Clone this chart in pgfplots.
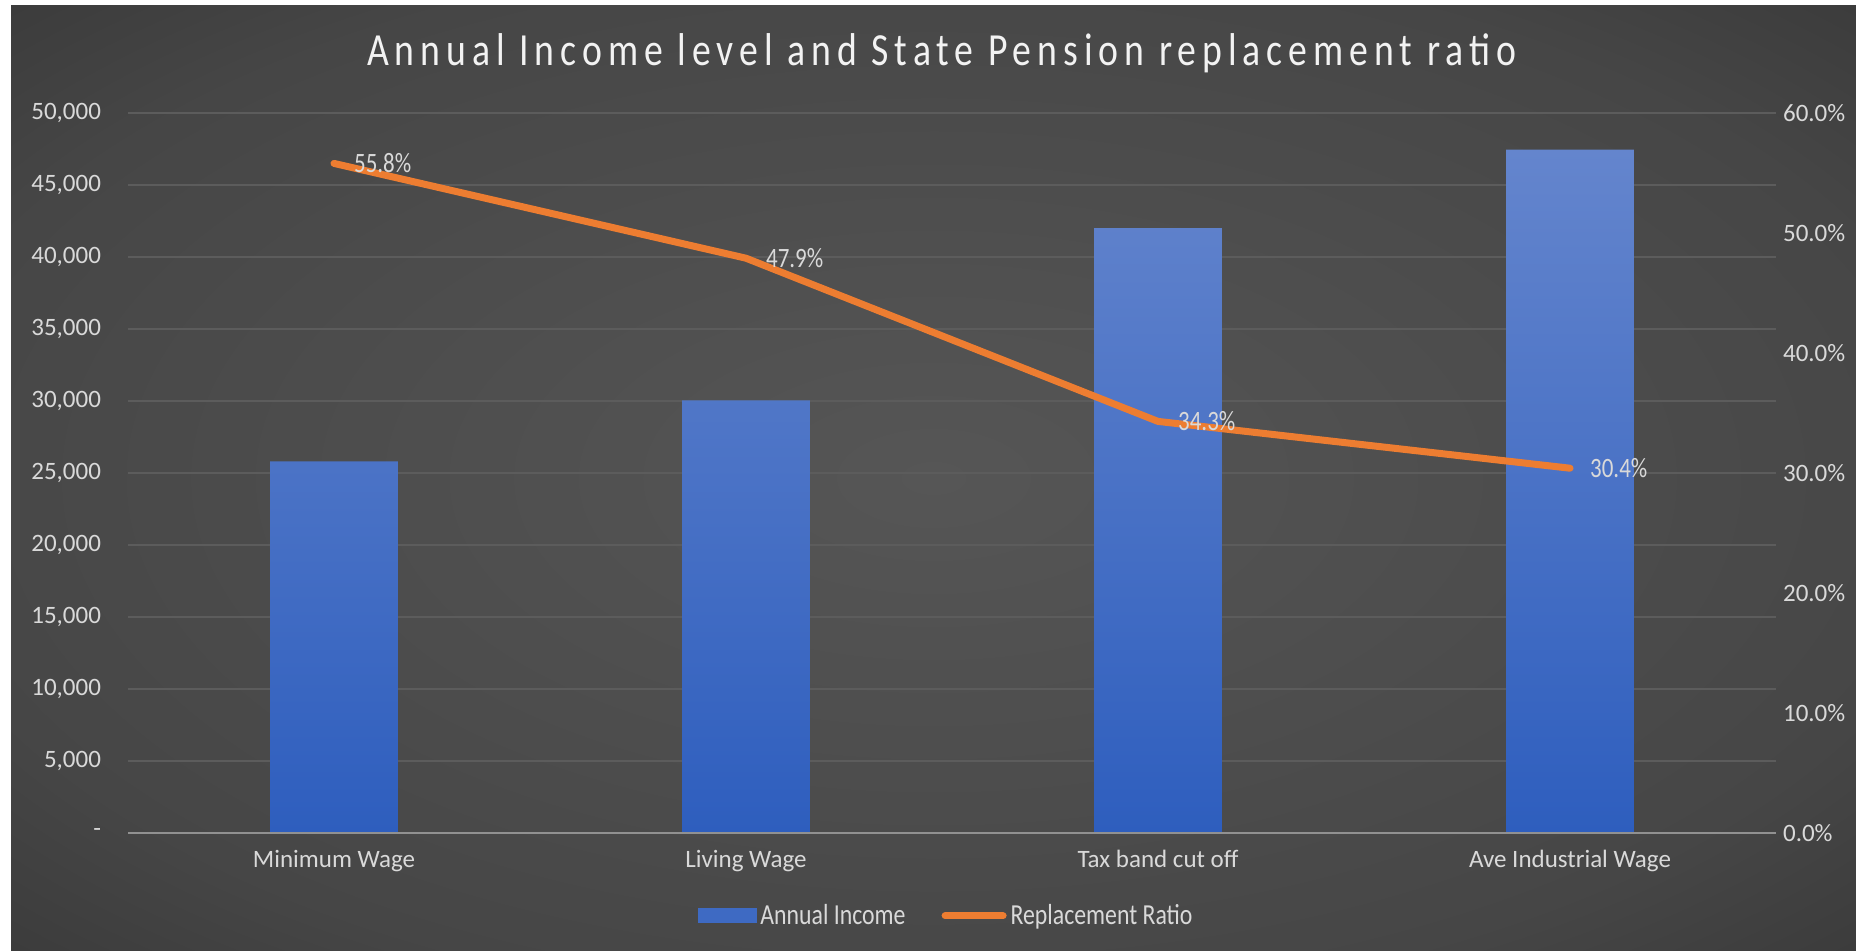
\documentclass[border=0pt]{standalone}
\usepackage{pgfplots}
\pgfplotsset{compat=1.18}
\usepackage{pgfplotstable}
\usepackage{fontspec}
\setmainfont{Carlito}
\newfontfamily\narrow[FakeStretch=0.82]{Carlito}
\newfontfamily\titlefont[FakeStretch=0.82,LetterSpace=13]{Carlito}
\definecolor{bgin}{RGB}{86,86,86}
\definecolor{bgmid}{RGB}{70,70,70}
\definecolor{bgout}{RGB}{40,40,40}
\definecolor{gridc}{RGB}{92,92,92}
\definecolor{basec}{RGB}{145,145,145}
\definecolor{tickc}{RGB}{217,217,217}
\definecolor{barT}{RGB}{100,133,205}
\definecolor{barB}{RGB}{46,94,190}
\definecolor{lineC}{RGB}{237,125,49}
\pgfdeclareradialshading{bgshade}{\pgfpoint{0bp}{0bp}}{color(0bp)=(bgin); color(28bp)=(bgmid); color(50bp)=(bgout); color(100bp)=(bgout)}

\pgfplotstableread{
x y
0 25800
1 30050
2 42000
3 47450
}\income
\pgfplotstableread{
x y
0 0.558
1 0.479
2 0.343
3 0.304
}\ratio

\begin{document}
\begin{tikzpicture}
\useasboundingbox (0,0) rectangle (928pt,475pt);
\shade[shading=bgshade] (5.5pt,0) rectangle (928pt,472pt);
\node[text=white!95!black, font=\titlefont\fontsize{23}{26}\selectfont] at (470.8pt,448.5pt) {Annual Income level and State Pension replacement ratio};

\begin{axis}[
  at={(64pt,58.5pt)}, anchor=south west,
  scale only axis, width=824pt, height=360pt,
  xmin=-0.5, xmax=3.5, ymin=0, ymax=50000,
  scaled y ticks=false,
  axis line style={draw=none},
  major tick length=0pt,
  xtick={0,1,2,3},
  xticklabels={Minimum Wage, Living Wage, Tax band cut off, Ave Industrial Wage},
  ytick={0,5000,10000,15000,20000,25000,30000,35000,40000,45000,50000},
  yticklabels={-,{5,000},{10,000},{15,000},{20,000},{25,000},{30,000},{35,000},{40,000},{45,000},{50,000}},
  ymajorgrids, grid style={gridc, line width=0.8pt},
  tick label style={text=tickc, font=\fontsize{12.5}{15}\selectfont},
  yticklabel style={anchor=east, xshift=-10pt},
  xticklabel style={yshift=-5pt},
  ybar, bar width=0.31,
]
\addplot[draw=none, top color=barT, bottom color=barB, bar shift=0pt] table[x=x,y=y] {\income};
\draw[basec, line width=1.2pt] (axis cs:-0.5,0) -- (axis cs:3.5,0);
\end{axis}

\begin{axis}[
  at={(64pt,58.5pt)}, anchor=south west,
  scale only axis, width=824pt, height=360pt,
  xmin=-0.5, xmax=3.5, ymin=0, ymax=0.6,
  axis x line=none,
  axis y line*=right,
  axis line style={draw=none},
  major tick length=0pt,
  ytick={0,0.1,0.2,0.3,0.4,0.5,0.6},
  /pgf/number format/assume math mode=true,
  yticklabel={\pgfmathparse{\tick*100}\pgfmathprintnumber[fixed,fixed zerofill,precision=1,assume math mode=true]{\pgfmathresult}\%},
  tick label style={text=tickc, font=\fontsize{12.5}{15}\selectfont},
  yticklabel style={anchor=west},
  legend style={draw=none, fill=none, at={(0.497,-0.115)}, anchor=center,
    legend columns=2, text=tickc, font=\narrow\fontsize{14.5}{16}\selectfont,
    /tikz/every even column/.append style={column sep=16pt}},
]
\addlegendimage{legend image code/.code={\fill[barB!70!barT] (0pt,-3.5pt) rectangle (29pt,3.5pt);}}
\addlegendentry{Annual Income}
\addplot[lineC, line width=3.5pt, line cap=round, line join=round, mark=none,
  point meta={y*100},
  nodes near coords={\pgfmathprintnumber[fixed,fixed zerofill,precision=1,assume math mode=true]{\pgfplotspointmeta}\%},
  every node near coord/.style={anchor=west, xshift=5pt, text=tickc, font=\narrow\fontsize{14}{16}\selectfont},
  legend image code/.code={\draw[lineC, line width=3.5pt, line cap=round] (2pt,0) -- (31pt,0);}
] table[x=x,y=y] {\ratio};
\addlegendentry{Replacement Ratio}
\end{axis}
\end{tikzpicture}
\end{document}
